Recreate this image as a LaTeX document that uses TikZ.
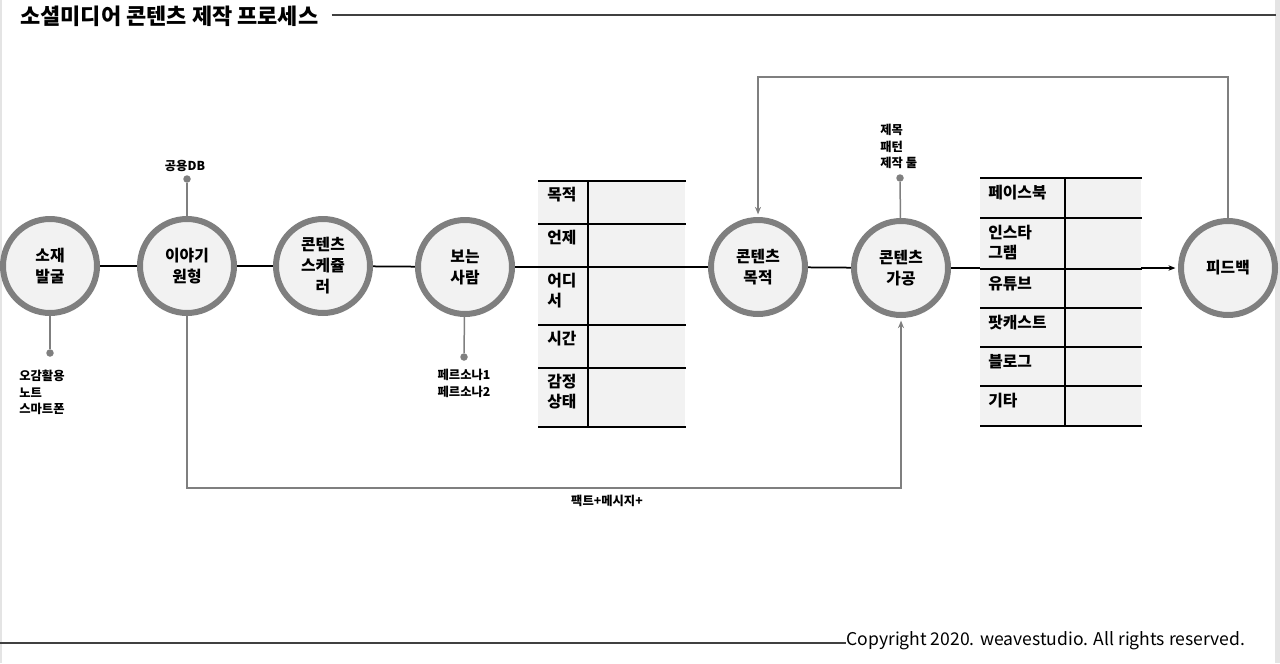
\documentclass[tikz,border=0pt]{standalone}
\usepackage{fontspec}
\setmainfont{Noto Sans CJK KR}
\usetikzlibrary{arrows.meta,positioning,backgrounds,calc}
\definecolor{ring}{HTML}{7F7F7F}
\definecolor{disc}{HTML}{F2F2F2}
\definecolor{cell}{HTML}{F2F2F2}
\definecolor{wire}{HTML}{7F7F7F}
\definecolor{rulegray}{HTML}{404040}
\definecolor{edgegray}{HTML}{E4E4E4}
\tikzset{
  stage/.style={circle,draw=ring,fill=disc,line width=0.12cm,
                minimum size=1.88cm,inner sep=0pt,align=center,
                font=\fontsize{9}{12}\selectfont\bfseries},
  row/.style={rectangle,fill=cell,anchor=north west,inner sep=0pt,
              minimum width=#1},
  celltext/.style={anchor=north west,inner sep=0pt,align=left,
              font=\fontsize{9}{11.5}\selectfont\bfseries},
  pin/.style={inner sep=0pt,font=\fontsize{7}{9.3}\selectfont\bfseries},
  dot/.style={circle,fill=wire,inner sep=0pt,minimum size=0.15cm},
  link/.style={line width=0.035cm,color=black},
  grid/.style={line width=0.04cm,color=black},
  loopline/.style={line width=0.035cm,color=wire,
                   -{Stealth[length=0.15cm,width=0.12cm]},shorten >=1.5pt},
  stem/.style={line width=0.03cm,color=wire},
  rulel/.style={line width=0.03cm,color=rulegray},
}
\begin{document}
\begin{tikzpicture}[x=0.02cm,y=-0.02cm]
  \useasboundingbox (0,0) rectangle (1280,663);
  \fill[edgegray] (0,0) rectangle (2,663);
  \fill[edgegray] (1275,0) rectangle (1280,663);

  %% -- title and footer --------------------------------------------------
  \node[anchor=west,inner sep=0pt,font=\fontsize{12.5}{14}\selectfont\bfseries]
        (title) at (20,16) {소셜미디어 콘텐츠 제작 프로세스};
  \coordinate (titleend) at (1276,15);
  \draw[rulel] ($(title.east)+(13,-1)$) -- (titleend);
  \node[anchor=base west,inner sep=0pt,font=\fontsize{10}{12}\selectfont]
        (copy) at (846,645) {Copyright 2020. weavestudio. All rights reserved.};
  \draw[rulel,line width=0.04cm] (0,643) -- (0,643 -| copy.west);

  %% -- process stages ------------------------------------------------------
  \node[stage] (source)   at (50,266)   {소재\\발굴};
  \node[stage] (story)    at (187,266)  {이야기\\원형};
  \node[stage] (schedule) at (323,266)  {콘텐츠\\스케쥴\\러};
  \node[stage] (people)   at (465,267)  {보는\\사람};
  \node[stage] (purpose)  at (758,267)  {콘텐츠\\목적};
  \node[stage] (craft)    at (901,268)  {콘텐츠\\가공};
  \node[stage] (feedback) at (1228,268) {피드백};

  %% -- 5W table ------------------------------------------------------------
  \foreach \nm/\top/\h/\txt in {a/181/43/목적, b/224/43/언제,
      c/267/58/{어디\\서}, d/325/43/시간, e/368/58/{감정\\상태}}{
    \pgfmathsetmacro\hh{\h*0.02}
    \node[row=2.94cm,minimum height=\hh cm] (w\nm) at (538,\top) {};
    \node[celltext] (wl\nm) at ($(w\nm.north west)+(9,6)$) {\txt};
    \draw[grid] (w\nm.north west) -- (w\nm.north east);
  }
  \draw[grid] (we.south west) -- (we.south east);
  \draw[grid] ($(wa.north west)+(50,0)$) -- ($(we.south west)+(50,0)$);

  %% -- channel table -------------------------------------------------------
  \foreach \nm/\top/\h/\txt in {f/178/40/페이스북, g/218/51/{인스타\\그램},
      h/269/39/유튜브, i/308/39/팟캐스트, j/347/39/블로그, k/386/39/기타}{
    \pgfmathsetmacro\hh{\h*0.02}
    \node[row=3.22cm,minimum height=\hh cm] (c\nm) at (980,\top) {};
    \node[celltext] (cl\nm) at ($(c\nm.north west)+(8,7)$) {\txt};
    \draw[grid] (c\nm.north west) -- (c\nm.north east);
  }
  \draw[grid] (ck.south west) -- (ck.south east);
  \draw[grid] ($(cf.north west)+(85,0)$) -- ($(ck.south west)+(85,0)$);

  %% -- side notes ----------------------------------------------------------
  \node[dot] (dbdot) at (187,179) {};
  \node[pin] (db) at (185,166) {공용DB};
  \node[dot] (srcdot) at (50,353) {};
  \node[pin,anchor=north west,align=left] (senses) at (19,370)
        {오감활용\\노트\\스마트폰};
  \node[dot] (perdot) at (464,357) {};
  \node[pin,anchor=north,align=center] (persona) at (464,369)
        {페르소나1\\페르소나2};
  \node[dot] (tooldot) at (900,178) {};
  \node[pin,anchor=north west,align=left] (tools) at (880,124)
        {제목\\패턴\\제작 툴};
  \node[pin] (fact) at (607,501) {팩트+메시지+};

  %% -- connectors ----------------------------------------------------------
  \begin{scope}[on background layer]
    \draw[link] (source) -- (story);
    \draw[link] (story) -- (schedule);
    \draw[link] (schedule) -- (people);
    \draw[link] (people) -- (purpose);
    \draw[link] (purpose) -- (craft);
    \draw[link,-{Stealth[length=0.14cm,width=0.11cm]},shorten >=1.5pt]
      (craft) -- (feedback);
    \draw[stem] (dbdot) -- (story);
    \draw[stem] (srcdot) -- (source);
    \draw[stem] (perdot) -- (people);
    \draw[stem] (tooldot) -- (craft);
    \draw[loopline] (feedback.north) -- ++(0,-141) -| (purpose.north);
    \draw[loopline] (story.south) -- ++(0,172) -| (craft.south);
  \end{scope}
\end{tikzpicture}
\end{document}
